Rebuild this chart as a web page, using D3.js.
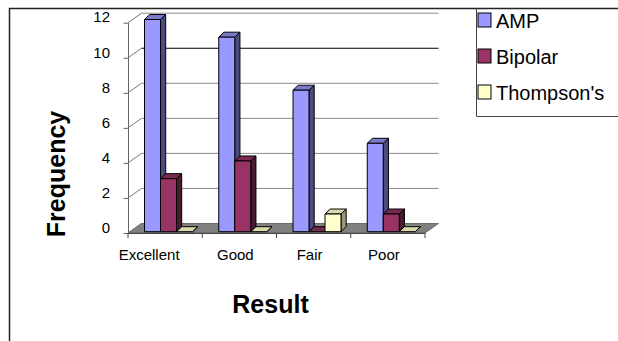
<!DOCTYPE html>
<html><head><meta charset="utf-8">
<script src="https://cdn.jsdelivr.net/npm/d3@7"></script>
<style>
html,body{margin:0;padding:0;background:#fff;}
svg{display:block;font-family:"Liberation Sans",Arial,sans-serif;}
</style></head>
<body>
<svg id="chart" width="618" height="341"></svg>
<script>
// ---- data ----
const categories = ["Excellent", "Good", "Fair", "Poor"];
const seriesNames = ["AMP", "Bipolar", "Thompson's"];
const ampValues = [12, 11, 8, 5];
const bipolarValues = [3, 4, 0, 1];
const thompsonsValues = [0, 0, 1, 0];
const yTickValues = [0, 2, 4, 6, 8, 10, 12];
const xTitle = "Result";
const yTitle = "Frequency";

// ---- styles ----
const frontColors = ["#9999FF", "#993366", "#FFFFCC"];
const topColors   = ["#7A7ACC", "#7A2952", "#D9D9AD"];
const sideColors  = ["#4C4C80", "#4C1933", "#999979"];

const seriesValues = [ampValues, bipolarValues, thompsonsValues];
const svg = d3.select("#chart");

// front-plane scales
const x0 = d3.scaleBand().domain(categories).range([128, 425]).padding(0);
const x1 = d3.scaleBand().domain(seriesNames).range([16.5, 64.5]).padding(0);
const yAxisScale = d3.scaleLinear().domain([0, 12]).range([233, 22.7]);
const yBar = d3.scaleLinear().domain([0, 12]).range([231.7, 19.5]);
const wallDX = 13.5, wallDY = -9.5;   // depth of walls
const barDX = 5.2, barDY = -5;        // depth of bars

// outer border
svg.append("path").attr("d", "M9.5,341 L9.5,8.5 L618,8.5")
  .attr("fill", "none").attr("stroke", "#222").attr("stroke-width", 1.5);

// floor
const fx0 = x0.range()[0], fx1 = x0.range()[1], fy = yAxisScale(0);
svg.append("path")
  .attr("d", `M${fx0},${fy} L${fx1},${fy} L${fx1 + wallDX},${fy + wallDY} L${fx0 + wallDX},${fy + wallDY} Z`)
  .attr("fill", "#808080").attr("stroke", "#555").attr("stroke-width", 0.8);

// back wall gridlines and left wall oblique lines
yTickValues.filter(v => v > 0).forEach(v => {
  const yy = yAxisScale(v);
  svg.append("line")
    .attr("x1", fx0 + wallDX).attr("x2", fx1 + wallDX)
    .attr("y1", yy + wallDY).attr("y2", yy + wallDY)
    .attr("stroke", v === 10 ? "#000" : "#8a8a8a").attr("stroke-width", 1);
});
yTickValues.forEach(v => {
  const yy = yAxisScale(v);
  svg.append("line")
    .attr("x1", fx0).attr("y1", yy)
    .attr("x2", fx0 + wallDX).attr("y2", yy + wallDY)
    .attr("stroke", "#777").attr("stroke-width", 1);
});

// y axis
const yAxis = d3.axisLeft(yAxisScale).tickValues(yTickValues).tickSizeInner(4.5).tickSizeOuter(0).tickPadding(13.5);
const gy = svg.append("g").attr("transform", `translate(${fx0},0)`).call(yAxis);
gy.select(".domain").attr("stroke", "#666");
gy.selectAll(".tick line").attr("stroke", "#666");
gy.selectAll(".tick text").attr("font-size", 15).attr("fill", "#000")
  .attr("font-family", "Liberation Sans, Arial, sans-serif").attr("dy", "-0.05em");

// x axis line and boundary ticks
svg.append("line").attr("x1", fx0).attr("x2", fx1).attr("y1", fy + 0.5).attr("y2", fy + 0.5)
  .attr("stroke", "#444");
const boundaries = categories.map(c => x0(c)).concat([fx1]);
boundaries.forEach(bx => {
  svg.append("line").attr("x1", bx).attr("x2", bx).attr("y1", fy).attr("y2", fy + 5)
    .attr("stroke", "#444");
});
// category labels
svg.selectAll(".catlabel").data(categories).enter().append("text")
  .attr("x", (c, i) => x0(c) + x0.bandwidth() / 2 - (i === 0 ? 16 : 4))
  .attr("y", 259.5)
  .attr("text-anchor", "middle").attr("font-size", 15).attr("fill", "#000")
  .text(c => c);

// bars
const bw = x1.bandwidth();
categories.forEach((c, ci) => {
  seriesNames.forEach((s, si) => {
    const v = seriesValues[si][ci];
    const xl = x0(c) + x1(s), xr = xl + bw;
    const yb = yBar(0), yt = yBar(v);
    const g = svg.append("g").attr("stroke", "#000").attr("stroke-width", 1).attr("stroke-linejoin", "round");
    g.append("path")
      .attr("d", `M${xr},${yb} L${xr + barDX},${yb + barDY} L${xr + barDX},${yt + barDY} L${xr},${yt} Z`)
      .attr("fill", sideColors[si]);
    g.append("path")
      .attr("d", `M${xl},${yt} L${xr},${yt} L${xr + barDX},${yt + barDY} L${xl + barDX},${yt + barDY} Z`)
      .attr("fill", topColors[si]);
    g.append("rect").attr("x", xl).attr("y", yt).attr("width", bw).attr("height", Math.max(0, yb - yt))
      .attr("fill", frontColors[si]);
  });
});

// axis titles
svg.append("text").attr("x", 270.5).attr("y", 313).attr("text-anchor", "middle")
  .attr("font-size", 25).attr("font-weight", "bold").attr("fill", "#000").text(xTitle);
svg.append("text").attr("transform", "translate(65,174) rotate(-90)").attr("text-anchor", "middle")
  .attr("font-size", 25).attr("font-weight", "bold").attr("fill", "#000").text(yTitle);

// legend
svg.append("path").attr("d", "M476.5,8.5 L476.5,116.5 L618,116.5")
  .attr("fill", "none").attr("stroke", "#444").attr("stroke-width", 1);
const leg = svg.selectAll(".leg").data(seriesNames).enter().append("g")
  .attr("transform", (d, i) => `translate(478,${13 + i * 36})`);
leg.append("rect").attr("x", 0).attr("y", 0).attr("width", 13).attr("height", 14)
  .attr("fill", (d, i) => frontColors[i]).attr("stroke", "#000").attr("stroke-width", 1);
leg.append("text").attr("x", 18).attr("y", 15).attr("font-size", 20).attr("fill", "#000").text(d => d);
</script>
</body></html>
